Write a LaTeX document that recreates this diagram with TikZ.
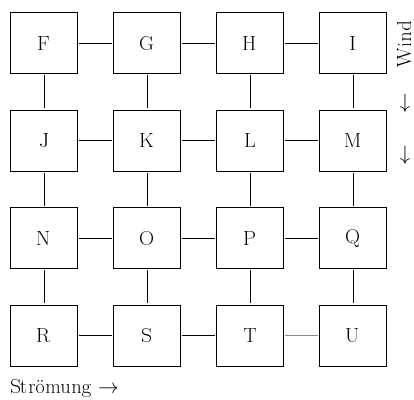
\documentclass[tikz,border=0pt]{standalone}
\usepackage[T1]{fontenc}
\begin{document}
\begin{tikzpicture}[x=103pt,y=97.5pt,n/.style={rectangle,draw=black,line width=0.8pt,minimum width=67pt,minimum height=61pt,font=\fontsize{21}{25}\selectfont},lbl/.style={font=\fontsize{21}{25}\selectfont,inner sep=0pt},c/.style={line width=0.8pt,shorten <=1.5pt,shorten >=1.5pt}]
                \useasboundingbox (-44pt,43pt) rectangle (370pt,-356pt);
                \node[n] (F) at (0,0) {F};
                \node[n] (G) at (1,0) {G};
                \node[n] (H) at (2,0) {H};
                \node[n] (I) at (3,0) {I};
                \node[n] (J) at (0,-1) {J};
                \node[n] (K) at (1,-1) {K};
                \node[n] (L) at (2,-1) {L};
                \node[n] (M) at (3,-1) {M};
                \node[n] (N) at (0,-2) {N};
                \node[n] (O) at (1,-2) {O};
                \node[n] (P) at (2,-2) {P};
                \node[n] (Q) at (3,-2) {Q};
                \node[n] (R) at (0,-3) {R};
                \node[n] (S) at (1,-3) {S};
                \node[n] (T) at (2,-3) {T};
                \node[n] (U) at (3,-3) {U};

                \node[lbl,rotate=90] (wind) at (360pt,-1pt) {Wind};
                \node[lbl] (arr1) at (361pt,-60pt) {$\downarrow$};
                \node[lbl] (arr2) at (361pt,-112pt) {$\downarrow$};
                \node[lbl,anchor=west] (flow) at (-34pt,-345pt) {Strömung $\rightarrow$};

                \draw[c] (F) to (G);
                \draw[c] (G) to (H);
                \draw[c] (H) to (I);
                \draw[c] (J) to (K);
                \draw[c] (K) to (L);
                \draw[c] (L) to (M);
                \draw[c] (N) to (O);
                \draw[c] (O) to (P);
                \draw[c] (P) to (Q);
                \draw[c] (R) to (S);
                \draw[c] (S) to (T);
                \draw[c,draw=black!45,line width=0.5pt] (T) to (U);

                \draw[c] (F) to (J);
                \draw[c] (J) to (N);
                \draw[c] (N) to (R);
                \draw[c] (G) to (K);
                \draw[c] (K) to (O);
                \draw[c] (O) to (S);
                \draw[c] (H) to (L);
                \draw[c] (L) to (P);
                \draw[c] (P) to (T);
                \draw[c] (I) to (M);
                \draw[c] (M) to (Q);
                \draw[c] (Q) to (U);
            \end{tikzpicture}
\end{document}
